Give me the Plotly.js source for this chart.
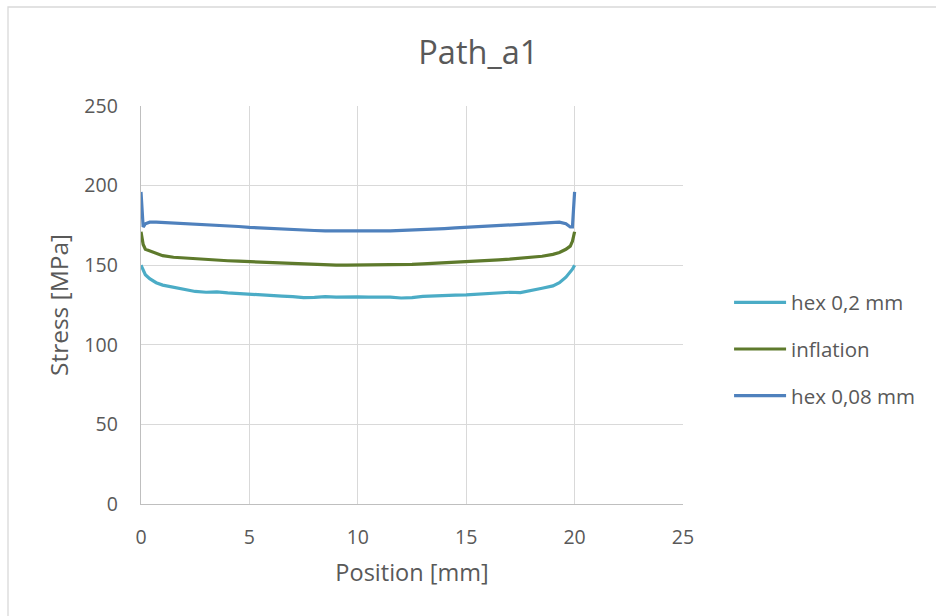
<!DOCTYPE html>
<html>
<head>
<meta charset="utf-8">
<script src="https://cdn.plot.ly/plotly-3.0.1.min.js"></script>
<style>
  html, body { margin: 0; padding: 0; background: #fff; }
  #chart { width: 936px; height: 616px; }
</style>
</head>
<body>
<div id="chart"></div>
<script>
const positions = [0, 0.1, 0.2, 0.4, 0.7, 1, 1.5, 2, 2.5, 3, 3.5, 4, 4.5, 5, 5.5, 6, 6.5, 7, 7.5, 8, 8.5, 9, 9.5, 10, 10.5, 11, 11.5, 12, 12.5, 13, 13.5, 14, 14.5, 15, 15.5, 16, 16.5, 17, 17.5, 18, 18.5, 19, 19.3, 19.6, 19.8, 19.9, 20];

const hex02 = [150, 147, 144, 141.5, 139, 137.5, 136, 135, 133.5, 133, 133.2, 132.6, 132.3, 131.8, 131.6, 131.2, 130.6, 130.2, 129.6, 129.8, 130.3, 129.9, 130.2, 130.1, 129.9, 130.2, 130, 129.4, 129.6, 130.4, 130.8, 130.8, 131.2, 131.4, 131.8, 132.2, 132.8, 133, 132.8, 134, 135.5, 137, 139, 142.5, 145.5, 147.5, 150];

const inflation = [171, 163, 160, 159, 157, 156, 155, 154.5, 154, 153.6, 153.2, 152.8, 152.5, 152.2, 151.8, 151.4, 151.1, 150.8, 150.5, 150.3, 150.1, 150, 150, 150, 150, 150, 150.1, 150.3, 150.5, 150.8, 151.1, 151.4, 151.8, 152.2, 152.6, 153, 153.4, 153.8, 154.3, 154.9, 155.6, 156.8, 158, 160, 162, 165, 171];

const hex008 = [196, 174, 176, 177, 177, 176.8, 176.6, 176.3, 176, 175.6, 175.2, 174.8, 174.3, 173.8, 173.4, 173, 172.6, 172.3, 172, 171.8, 171.6, 171.5, 171.4, 171.4, 171.4, 171.5, 171.6, 171.8, 172, 172.3, 172.6, 173, 173.4, 173.8, 174.3, 174.8, 175.2, 175.6, 176, 176.3, 176.6, 176.8, 177, 176, 174, 174, 196];

const seriesNames = ['hex 0,2 mm', 'inflation', 'hex 0,08 mm'];
const seriesColors = ['#4bacc6', '#5e7a2c', '#4f81bd'];
const xTicks = [0, 5, 10, 15, 20, 25];
const yTicks = [0, 50, 100, 150, 200, 250];

const FONT = '"Open Sans", Lato, sans-serif';
const TXT = '#595959';

const traces = [hex02, inflation, hex008].map((vals, i) => ({
  type: 'scatter',
  mode: 'lines',
  x: positions,
  y: vals,
  name: seriesNames[i],
  legendgroup: 'g' + i,
  line: { color: seriesColors[i], width: 3.2 }
}));

const layout = {
  width: 936,
  height: 616,
  paper_bgcolor: '#ffffff',
  plot_bgcolor: '#ffffff',
  margin: { l: 141, r: 253, t: 106, b: 112 },
  font: { family: FONT, color: TXT, size: 19 },
  title: {
    text: 'Path_a1',
    font: { family: FONT, size: 32.5, color: TXT },
    x: 0.511, xref: 'container', xanchor: 'center',
    y: 1 - 53 / 616, yref: 'container', yanchor: 'middle'
  },
  xaxis: {
    range: [0, 25],
    tickvals: xTicks,
    ticktext: xTicks.map(String),
    showgrid: true,
    gridcolor: '#d9d9d9',
    gridwidth: 1.3,
    zeroline: false,
    showline: true,
    linecolor: '#bfbfbf',
    linewidth: 1.3,
    ticks: 'outside',
    ticklen: 15,
    tickcolor: 'rgba(0,0,0,0)',
    tickfont: { family: FONT, size: 19.5, color: TXT },
    title: { text: 'Position [mm]', font: { family: FONT, size: 23.5, color: TXT }, standoff: 15 }
  },
  yaxis: {
    range: [0, 250],
    tickvals: yTicks,
    ticktext: yTicks.map(String),
    showgrid: true,
    gridcolor: '#d9d9d9',
    gridwidth: 1.3,
    zeroline: false,
    showline: true,
    linecolor: '#bfbfbf',
    linewidth: 1.3,
    ticks: 'outside',
    ticklen: 18,
    tickcolor: 'rgba(0,0,0,0)',
    tickfont: { family: FONT, size: 19.5, color: TXT },
    title: { text: 'Stress [MPa]', font: { family: FONT, size: 24.5, color: TXT }, standoff: 8 }
  },
  showlegend: true,
  legend: {
    x: 1.085, xanchor: 'left',
    y: (504 - 349) / 398, yanchor: 'middle',
    font: { family: FONT, size: 20.5, color: TXT },
    tracegroupgap: 17,
    itemwidth: 52,
    bgcolor: 'rgba(0,0,0,0)'
  },
  shapes: [{
    type: 'rect', xref: 'paper', yref: 'paper',
    x0: (8 - 141) / 542, x1: (960 - 141) / 542,
    y0: (504 - 640) / 398, y1: (504 - 7) / 398,
    line: { color: '#d9d9d9', width: 1.3 },
    fillcolor: 'rgba(0,0,0,0)',
    layer: 'below'
  }]
};

Plotly.newPlot('chart', traces, layout, { displayModeBar: false, staticPlot: true });
</script>
</body>
</html>
